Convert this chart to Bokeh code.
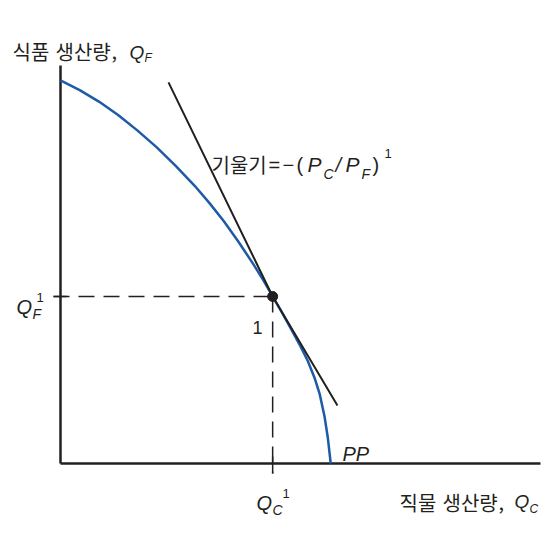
from bokeh.plotting import figure
from bokeh.embed import file_html
from bokeh.resources import INLINE
from bokeh.core.properties import value

# ---- data (chart units) ----
pp_x = [0, 4, 8, 12, 16, 20, 24, 28, 31, 34, 37, 40, 42, 44.2,
        46, 48, 50, 51.5, 53, 54, 55, 55.7, 56.3]
pp_y = [79.8, 77.8, 75.4, 72.6, 69.4, 65.9, 62.0, 57.8, 54.3, 50.5, 46.3, 41.8, 38.6, 34.8,
        31.7, 28.1, 24.4, 21.4, 17.65, 14.45, 9.85, 5.3, 0]
tan_x = [22.5, 44.2, 57.7]
tan_y = [79.4, 34.8, 12.1]
qc1 = 44.2
qf1 = 34.8
x_axis_max = 100
y_axis_max = 82.9

# ---- mapping helpers (page pixel -> chart units) for label placement ----
X0, Y0, S = 60, 463, 4.8
def dx(px):
    return (px - X0) / S
def dy(py):
    return (Y0 - py) / S

W, H = 545, 528
p = figure(width=W, height=H, output_backend="svg", toolbar_location=None,
           x_range=(dx(0), dx(W)), y_range=(dy(H), dy(0)),
           min_border=0, outline_line_color=None)
p.axis.visible = False
p.grid.visible = False
p.background_fill_color = "white"

ink = "#231f20"
blue = "#1d5ba6"

# axes
p.line([0, 0], [0, y_axis_max], line_color=ink, line_width=2.5)
p.line([0, x_axis_max], [0, 0], line_color=ink, line_width=2.5)

# dashed guides
p.line([dx(53), qc1], [qf1, qf1], line_color=ink, line_width=1.5, line_dash="16 9")
p.line([qc1, qc1], [qf1, dy(473)], line_color=ink, line_width=1.5, line_dash="16 9")
# small ticks
p.line([dx(53), dx(66)], [qf1, qf1], line_color=ink, line_width=1.5)
p.line([qc1, qc1], [dy(456), dy(473)], line_color=ink, line_width=1.5)

# PP curve and tangent
p.line(pp_x, pp_y, line_color=blue, line_width=2.5, line_join="round")
p.line(tan_x, tan_y, line_color=ink, line_width=2)
p.scatter([qc1], [qf1], size=10, color=ink)

KR = value("Noto Sans CJK KR")
LAT = value("Liberation Sans")

def txt(px, py, s, font=LAT, size="19px", style="normal", align="left"):
    p.text(x=[dx(px)], y=[dy(py)], text=[s], text_font=font,
           text_font_size=value(size), text_font_style=style,
           text_color=ink, text_align=align, text_baseline="alphabetic")

# y-axis title
txt(12, 51, "식품", font=KR, size="20px")
txt(55, 51, "생산량", font=KR, size="20px")
txt(111, 51, ",", font=KR, size="20px")
txt(129, 52, "Q", style="italic", size="19px")
txt(144, 57, "F", style="italic", size="12px")

# x-axis title
txt(399, 502, "직물", font=KR, size="20px")
txt(442, 502, "생산량", font=KR, size="20px")
txt(498, 502, ",", font=KR, size="20px")
txt(514, 501, "Q", style="italic", size="19px")
txt(529, 508, "C", style="italic", size="12px")

# slope label
txt(211, 164, "기울기", font=KR, size="20px")
txt(268, 164, "=", size="20px")
txt(282, 164, "\u2212", size="20px")
txt(296, 164, "(", size="20px")
txt(307, 164, "P", style="italic", size="21px")
txt(323, 173, "C", style="italic", size="14px")
txt(335, 164, "/", style="italic", size="20px")
txt(345, 164, "P", style="italic", size="21px")
txt(361, 173, "F", style="italic", size="14px")
txt(372, 164, ")", size="20px")
txt(384, 153, "1", size="13px")

# Q_F^1
txt(16, 306, "Q", style="italic", size="20px")
txt(32, 313, "F", style="italic", size="14px")
txt(36, 297, "1", size="13px")

# Q_C^1
txt(256, 502, "Q", style="italic", size="20px")
txt(272, 509, "C", style="italic", size="14px")
txt(282, 493, "1", size="13px")

# '1' near point and PP
txt(252, 327, "1", size="18px")
txt(342, 453, "PP", style="italic", size="20px")

open("out.html", "w").write(file_html(p, INLINE))
